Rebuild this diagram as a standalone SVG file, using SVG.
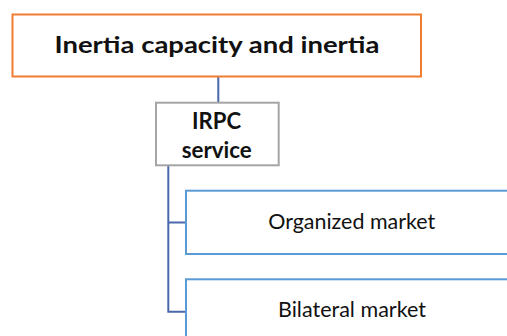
<svg xmlns="http://www.w3.org/2000/svg" width="507" height="336" viewBox="0 0 507 336">
<style>
  .conn { fill: none; stroke: #4A68AC; stroke-width: 2; }
  .box { fill: #FFFFFF; stroke-width: 2; }
  .bold { font-family: Lato, "Open Sans", sans-serif; font-weight: bold; font-size: 23px; fill: #111111; text-anchor: middle; }
  .reg { font-family: Lato, "Open Sans", sans-serif; font-size: 21px; fill: #111111; text-anchor: middle; }
</style>
<rect width="507" height="336" fill="#FFFFFF"/>
<g id="connectors">
  <path class="conn" d="M218.3 77 V103"/>
  <path class="conn" d="M168.3 165.5 V311.7 H187"/>
  <path class="conn" d="M168.3 222.5 H187"/>
</g>
<g id="node-inertia">
  <rect class="box" x="12.5" y="14.5" width="408.5" height="62" stroke="#ED7D31"/>
  <text class="bold" x="217" y="52.5" textLength="325" lengthAdjust="spacingAndGlyphs">Inertia capacity and inertia</text>
</g>
<g id="node-irpc">
  <rect class="box" x="156" y="102.7" width="122.7" height="62.6" stroke="#A5A5A5"/>
  <text class="bold" x="216.5" y="129" textLength="49" lengthAdjust="spacingAndGlyphs">IRPC</text>
  <text class="bold" x="216.7" y="157.7" textLength="70" lengthAdjust="spacingAndGlyphs">service</text>
</g>
<g id="node-organized">
  <rect class="box" x="186" y="190.7" width="332" height="63.3" stroke="#5B9BD5"/>
  <text class="reg" x="351.7" y="229.3" textLength="167" lengthAdjust="spacingAndGlyphs">Organized market</text>
</g>
<g id="node-bilateral">
  <rect class="box" x="186" y="279.3" width="332" height="63.3" stroke="#5B9BD5"/>
  <text class="reg" x="352" y="317.3" textLength="148" lengthAdjust="spacingAndGlyphs">Bilateral market</text>
</g>
</svg>
